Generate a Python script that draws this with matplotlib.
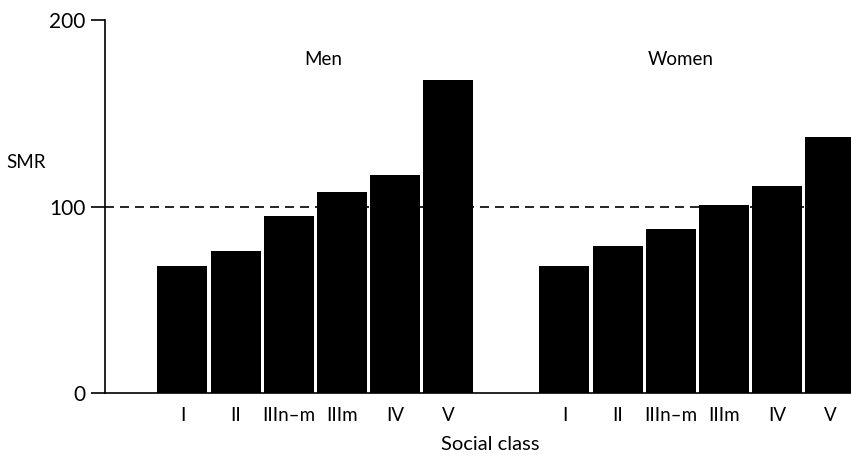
import matplotlib
matplotlib.use("Agg")
import matplotlib.pyplot as plt
import numpy as np

plt.rcParams['font.family'] = ['Lato', 'DejaVu Sans']

classes = ["I", "II", "IIIn\u2013m", "IIIm", "IV", "V"]
men_smr = [68, 76, 95, 108, 117, 168]
women_smr = [68, 79, 88, 101, 111, 137]
group_labels = ["Men", "Women"]

W, H = 851, 461
fig = plt.figure(figsize=(W / 100, H / 100), dpi=100)
left_px, right_px, top_px, bot_px = 105.3, 851, 20, 393
ax = fig.add_axes([left_px / W, 1 - bot_px / H, (right_px - left_px) / W, (bot_px - top_px) / H])

offset = 7.18
x_men = np.arange(len(classes))
x_women = np.arange(len(classes)) + offset
ax.axhline(100, color="black", lw=1.2, dashes=(5.4, 3.6), zorder=1)
ax.bar(x_men, men_smr, width=0.94, color="black", zorder=2)
ax.bar(x_women, women_smr, width=0.94, color="black", zorder=2)

ax.set_xlim(-1.451, 12.566)
ax.set_ylim(0, 200)
ax.set_yticks([0, 100, 200])
ax.set_yticklabels(["0", "100", "200"], fontsize=15)
ax.set_xticks(list(x_men) + list(x_women))
ax.set_xticklabels(classes + classes, fontsize=13.5)
ax.tick_params(axis="y", direction="out", length=10, width=1.2, pad=4)
ax.tick_params(axis="x", length=0, pad=10)
for s in ["top", "right"]:
    ax.spines[s].set_visible(False)
for s in ["left", "bottom"]:
    ax.spines[s].set_linewidth(1.2)
    ax.spines[s].set_zorder(3)

ax.text(2.64, 179, group_labels[0], ha="center", va="center", fontsize=13.5)
ax.text(9.37, 179, group_labels[1], ha="center", va="center", fontsize=13.5)
fig.text(26 / W, 1 - 162 / H, "SMR", ha="center", va="center", fontsize=13.5)
fig.text(490 / W, 1 - 444 / H, "Social class", ha="center", va="center", fontsize=14.5)

fig.savefig("out.png", dpi=100)
